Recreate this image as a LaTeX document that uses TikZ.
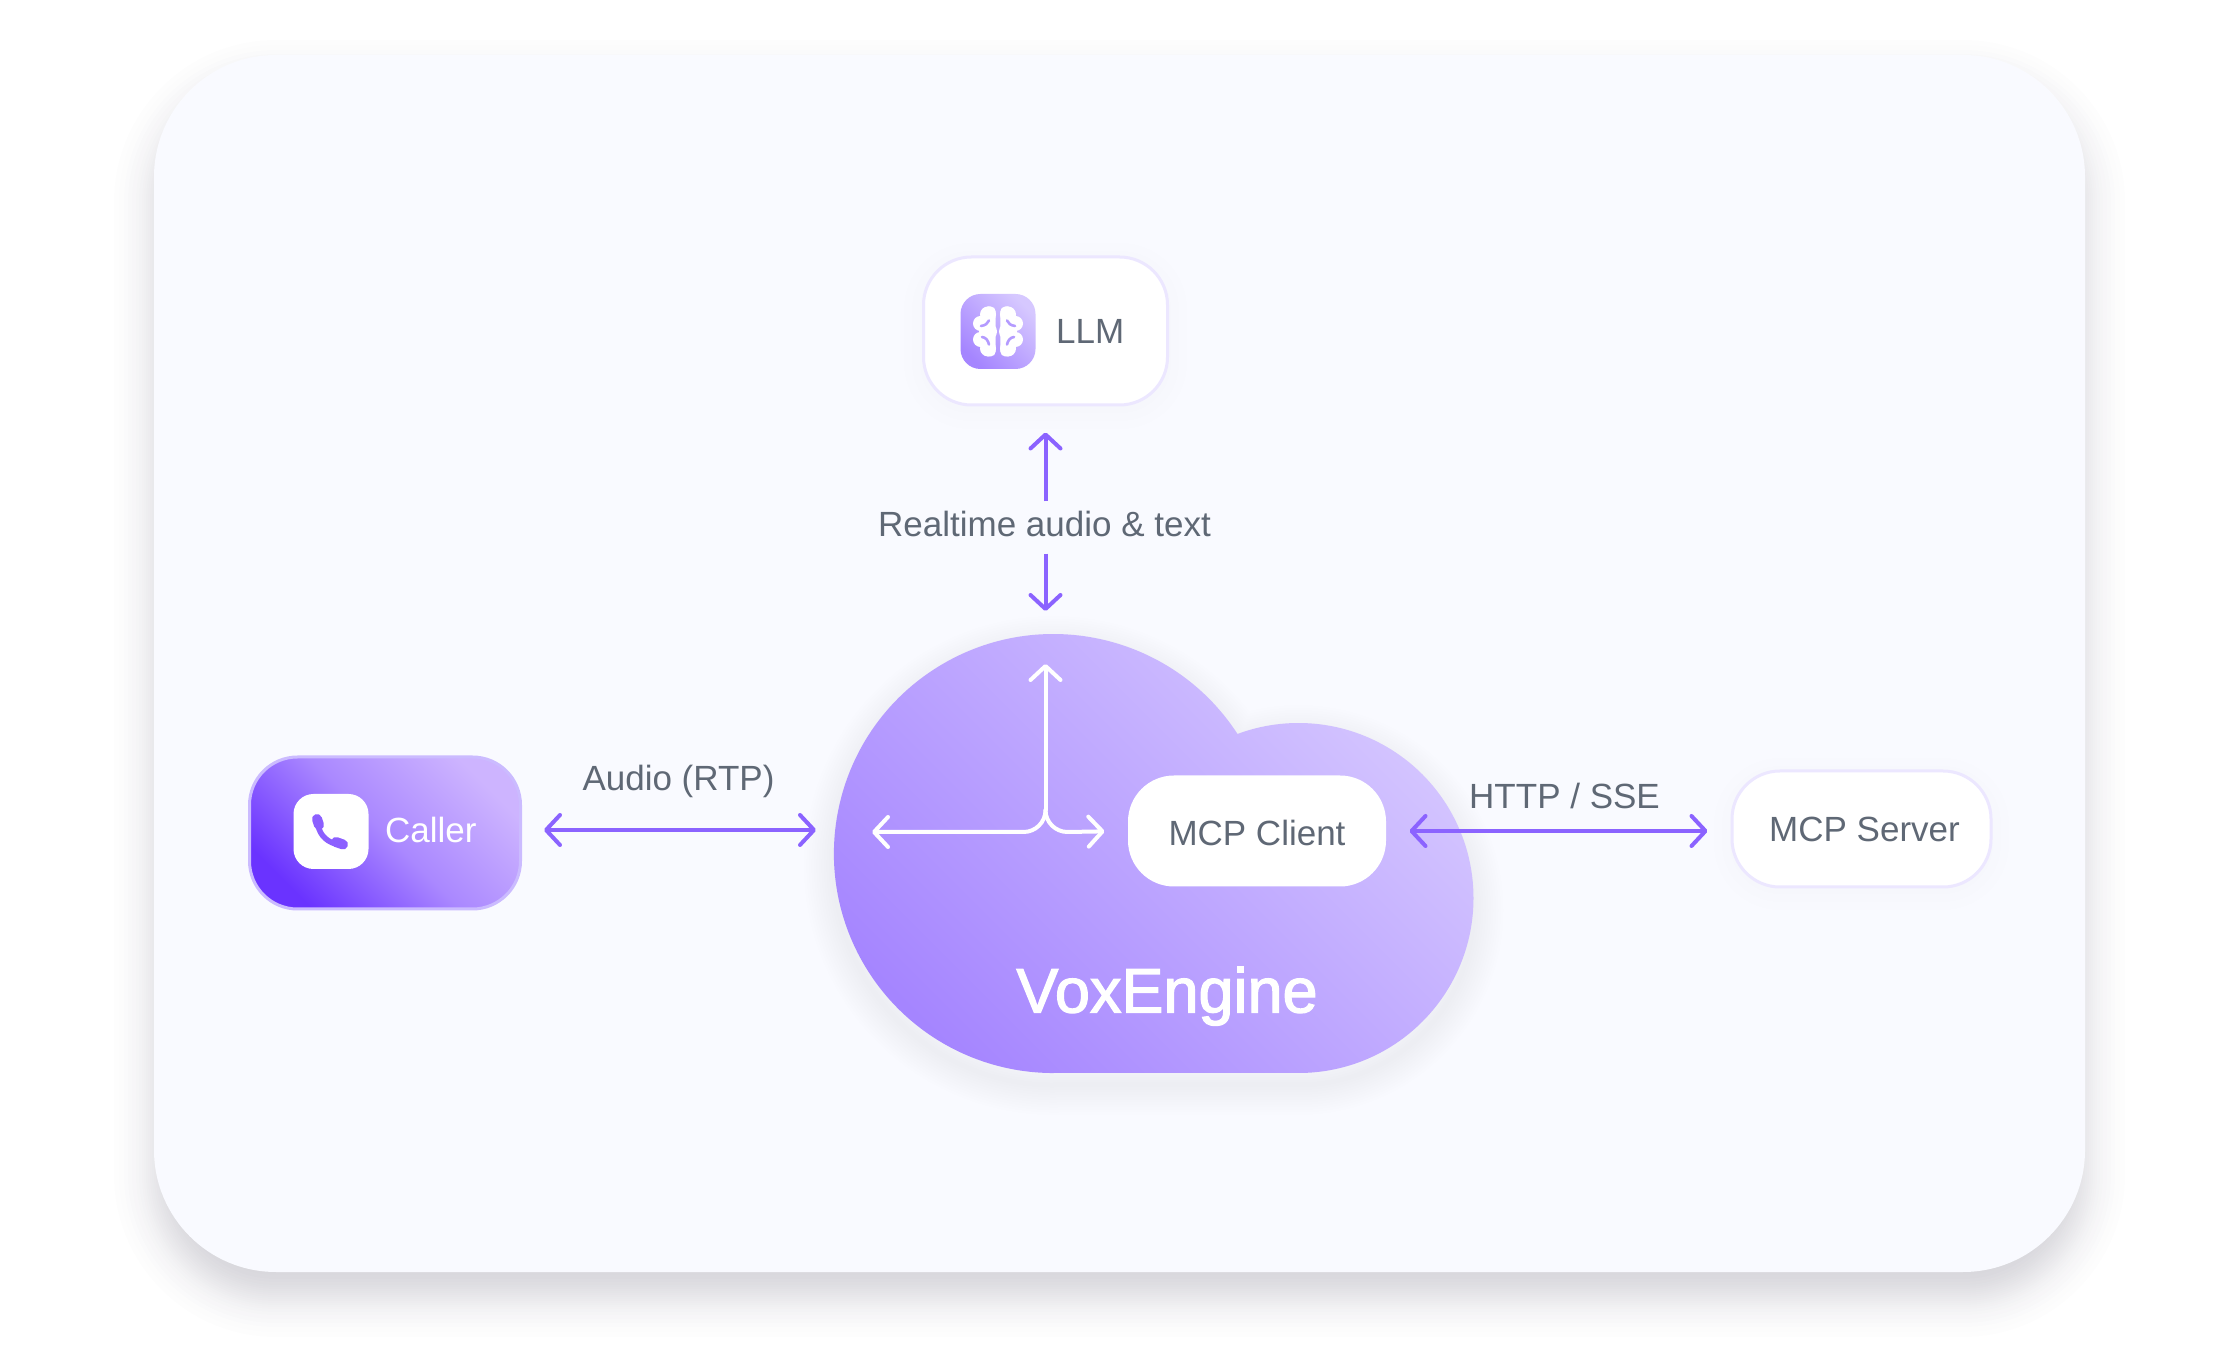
\documentclass[tikz,border=0pt]{standalone}
\usepackage{fontspec}
\setmainfont{Liberation Sans}
\newfontfamily\mediumfont[FakeBold=2]{Liberation Sans}
\usetikzlibrary{arrows.meta,positioning}

\definecolor{cardfill}{HTML}{F9FAFF}
\definecolor{shadowcol}{HTML}{2A2540}
\definecolor{flowcol}{HTML}{8B63FF}
\definecolor{textcol}{HTML}{5F6875}
\definecolor{pillborder}{HTML}{ECE7FF}
\definecolor{callerborder}{HTML}{CBBBFF}
\definecolor{callerlow}{HTML}{6A33FF}
\definecolor{callermid}{HTML}{AA88FF}
\definecolor{callerhigh}{HTML}{CDB4FF}
\definecolor{cloudlow}{HTML}{A585FF}
\definecolor{cloudhigh}{HTML}{D6C8FF}
\definecolor{glyphcol}{HTML}{B49BFF}
\definecolor{phonecol}{HTML}{8C5FFF}

\newcommand{\softshadow}[8]{%
	\foreach \d in {#6}
		\fill[shadowcol,opacity=#7,rounded corners={max(#5+\d,1)*1pt}]
			(#1-\d,#2-\d-#8) rectangle (#3+\d,#4+\d-#8);
}

\begin{document}
\begin{tikzpicture}[
					x = 1pt,
					y = 1pt,
					>={Straight Barb[length=14pt,width=30pt,round]},
					labeltext/.style = {inner sep=0pt,text=textcol,font=\fontsize{35}{40}\selectfont},
					pillbox/.style = {draw=pillborder,line width=3pt,fill=white,rounded corners=48pt,inner sep=0pt},
					callerbox/.style = {draw=callerborder,line width=3pt,rounded corners=48pt,inner sep=0pt,
						bottom color=callerlow,top color=callerhigh,middle color=callermid,shading angle=-45},
					iconbox/.style = {minimum size=75pt,rounded corners=20pt,inner sep=0pt},
					flowline/.style = {<->,draw=flowcol,line width=4pt},
					flowhalf/.style = {->,draw=flowcol,line width=4pt},
					whitehalf/.style = {->,draw=white,line width=4pt,line cap=round}
					]

					\useasboundingbox (0,0) rectangle (2240,1352);

					\softshadow{154}{80}{2085}{1297}{122}{-30,-26,-22,-18,-15,-12,-10,-8,-6,-4,-2,0,2,4,6,8,10,12,15,18,22,26,30,35,40}{0.0065}{25}
					\fill[cardfill,rounded corners=122pt] (154,80) rectangle (2085,1297);

					\softshadow{922}{946}{1169}{1096}{48}{2,10,18}{0.002}{5}
					\softshadow{1732}{465}{1991}{581}{48}{2,10,18}{0.002}{5}

					\def\cloudpath{(1053.5,279) -- (1298.5,279) arc[start angle=-90,end angle=110.4,radius=175] arc[start angle=33,end angle=270,radius=219.5] -- cycle}

					\foreach \w in {5,10,...,60}
						\draw[shadowcol,opacity=0.004,line width=\w pt,shift={(0,-12)}] \cloudpath;
					\shade[bottom color=cloudlow,top color=cloudhigh,shading angle=-45] \cloudpath;

					\node[pillbox,minimum width=244pt,minimum height=148pt] (llm) at (1045.5,1021) {};
					\node[iconbox,bottom color=cloudlow,top color=cloudhigh,shading angle=-45] (brainicon) at (998,1020.5) {};
					\node[labeltext,anchor=base west] (llmtext) at (1056,1008.5) {LLM};

					\begin{scope}[shift={(998,1020.5)}]
						\foreach \s in {-1,1} {
							\begin{scope}[xscale=\s]
								\fill[white,rounded corners=5pt] (2.3,-25) rectangle (15,25);
								\foreach \cx/\cy/\cr in {10/17/8,17.5/8/7.5,17.5/-8/7.5,10/-17/8,10/0/9}
									\fill[white] (\cx,\cy) circle[radius=\cr];
								\draw[glyphcol,line width=2.6pt,line cap=round] (17,5.5) .. controls (13,6) and (10,8) .. (9,11);
								\draw[glyphcol,line width=2.6pt,line cap=round] (16,-5.5) .. controls (12,-6) and (10,-9) .. (9,-13);
							\end{scope}
						}
					\end{scope}

					\node[callerbox,minimum width=271pt,minimum height=152pt] (caller) at (385,519) {};
					\node[iconbox,fill=white] (phoneicon) at (331,520.5) {};
					\node[labeltext,text=white,anchor=base west] (callertext) at (385,509.5) {Caller};

					\draw[phonecol,line width=5.5pt,line cap=round] (318,527) .. controls (320,516) and (328,509) .. (340,507);
					\draw[phonecol,line width=10pt,line cap=round] (317,533) -- (319,527);
					\draw[phonecol,line width=10pt,line cap=round] (336,510) -- (343,507.5);

					\node[pillbox,draw=none,minimum width=258pt,minimum height=111pt,rounded corners=46pt] (mcpclient) at (1257,521) {};
					\node[labeltext,anchor=base] (mcpclienttext) at (1257,506.5) {MCP Client};
					\node[pillbox,minimum width=259pt,minimum height=116pt] (mcpserver) at (1861.5,523) {};
					\node[labeltext,anchor=base] (mcpservertext) at (1864.5,510.5) {MCP Server};

					\node[inner sep=0pt,text=white,anchor=base,font=\fontsize{63}{70}\selectfont\mediumfont] (voxengine) at (1167,339.5) {VoxEngine};

					\node[labeltext,anchor=base] (audiotext) at (678.5,561) {Audio (RTP)};
					\node[labeltext,anchor=base] (httptext) at (1564.5,543) {HTTP / SSE};
					\node[labeltext,anchor=base] (realtimetext) at (1044.5,815) {Realtime audio \& text};

					\coordinate (cloudwest) at (834,522);
					\coordinate (cloudtop) at (1045.5,741);
					\coordinate (splitup) at (1045.5,688);
					\coordinate (splitfork) at (1045.5,542);
					\coordinate (splitwest) at (872,520);

					\draw[flowline,shorten <=22pt,shorten >=18pt] (caller.east |- cloudwest) -- (cloudwest);
					\draw[flowline,shorten <=22pt,shorten >=23pt] (mcpclient.east) -- (mcpserver.west |- mcpclient.east);
					\draw[flowhalf,shorten <=10pt,shorten >=26pt] (realtimetext.north -| llm.south) -- (llm.south);
					\draw[flowhalf,shorten <=16pt] (realtimetext.south -| cloudtop) -- (cloudtop);

					\draw[whitehalf] (splitfork) -- (splitup);
					\draw[whitehalf] (splitfork) arc[start angle=0,end angle=-90,radius=22] -- (splitwest);
					\draw[whitehalf,shorten >=22pt] (splitfork) arc[start angle=180,end angle=270,radius=22] -- (mcpclient.west);

				\end{tikzpicture}
\end{document}
